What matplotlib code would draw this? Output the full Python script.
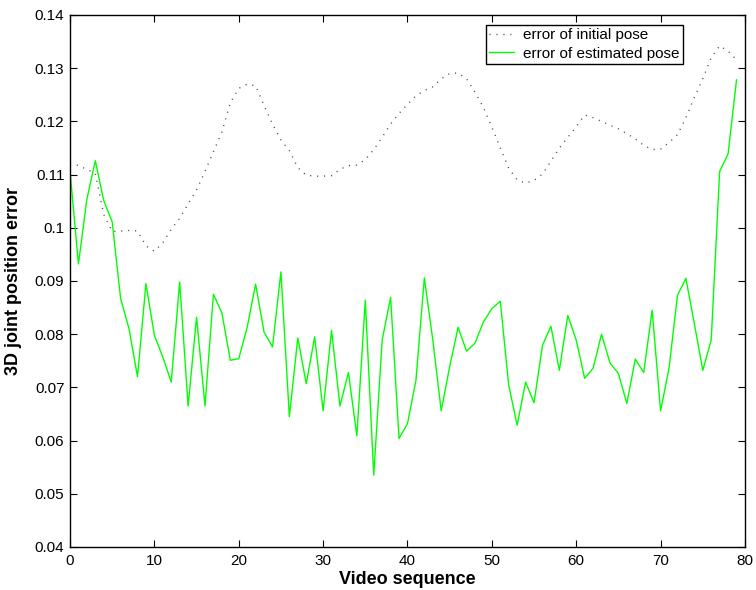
import matplotlib
matplotlib.use("Agg")
import matplotlib.pyplot as plt
from matplotlib.ticker import FuncFormatter

# video sequence index
frames = list(range(80))

# error of initial pose (dotted)
err_initial = [
    0.1121, 0.1117, 0.1110, 0.1102, 0.1025, 0.0993, 0.0994, 0.0995, 0.0994, 0.0966,
    0.0956, 0.0972, 0.0997, 0.1018, 0.1045, 0.1071, 0.1106, 0.1143, 0.1180, 0.1235,
    0.1262, 0.1270, 0.1267, 0.1230, 0.1195, 0.1165, 0.1145, 0.1113, 0.1099, 0.1097,
    0.1097, 0.1098, 0.1110, 0.1117, 0.1118, 0.1128, 0.1147, 0.1170, 0.1195, 0.1215,
    0.1232, 0.1248, 0.1258, 0.1265, 0.1280, 0.1290, 0.1291, 0.1280, 0.1255, 0.1226,
    0.1189, 0.1150, 0.1112, 0.1090, 0.1084, 0.1089, 0.1101, 0.1125, 0.1150, 0.1170,
    0.1190, 0.1212, 0.1207, 0.1200, 0.1193, 0.1186, 0.1177, 0.1167, 0.1155, 0.1147,
    0.1148, 0.1160, 0.1175, 0.1207, 0.1245, 0.1280, 0.1320, 0.1342, 0.1332, 0.1316,
]

# error of estimated pose (green)
err_estimated = [
    0.1107, 0.0932, 0.1054, 0.1126, 0.1051, 0.1011, 0.0867, 0.0810, 0.0720, 0.0895,
    0.0798, 0.0757, 0.0710, 0.0898, 0.0665, 0.0832, 0.0665, 0.0875, 0.0840, 0.0751,
    0.0754, 0.0813, 0.0894, 0.0804, 0.0776, 0.0917, 0.0645, 0.0793, 0.0707, 0.0795,
    0.0656, 0.0807, 0.0665, 0.0728, 0.0609, 0.0864, 0.0535, 0.0789, 0.0869, 0.0604,
    0.0632, 0.0713, 0.0906, 0.0789, 0.0656, 0.0739, 0.0813, 0.0768, 0.0783, 0.0823,
    0.0848, 0.0862, 0.0704, 0.0629, 0.0710, 0.0671, 0.0779, 0.0815, 0.0732, 0.0835,
    0.0789, 0.0717, 0.0736, 0.0800, 0.0746, 0.0726, 0.0670, 0.0753, 0.0728, 0.0845,
    0.0656, 0.0736, 0.0873, 0.0905, 0.0820, 0.0732, 0.0789, 0.1106, 0.1139, 0.1278,
]

x_ticks = [0, 10, 20, 30, 40, 50, 60, 70, 80]
y_ticks = [0.04, 0.05, 0.06, 0.07, 0.08, 0.09, 0.10, 0.11, 0.12, 0.13, 0.14]

plt.rcParams['font.family'] = ['Liberation Sans', 'DejaVu Sans']

fig = plt.figure(figsize=(7.56, 5.90), dpi=100)
ax = fig.add_axes([0.0926, 0.0729, 0.8928, 0.9017])

ax.plot(frames, err_initial, color='#664466', linewidth=1.0,
        linestyle=(0, (0.8, 4.2)), label='error of initial pose')
ax.plot(frames, err_estimated, color='#00ff00', linewidth=1.0,
        label='error of estimated pose')

ax.set_xlim(0, 80)
ax.set_ylim(0.04, 0.14)
ax.set_xticks(x_ticks)
ax.set_yticks(y_ticks)
ax.yaxis.set_major_formatter(FuncFormatter(lambda v, p: '%g' % round(v, 2)))
ax.tick_params(direction='in', top=True, right=True, length=5, width=0.8,
               labelsize=11, pad=4)
ax.tick_params(axis='x', pad=5)
for s in ax.spines.values():
    s.set_linewidth(1.0)

ax.set_xlabel('Video sequence', fontsize=13, fontweight='bold', labelpad=2)
ax.set_ylabel('3D joint position error', fontsize=13, fontweight='bold', labelpad=9)

leg = ax.legend(loc='upper right', bbox_to_anchor=(0.908, 0.981), fontsize=11,
                fancybox=False, framealpha=1, edgecolor='black',
                handlelength=1.65, borderpad=0.2, labelspacing=0.3,
                handletextpad=0.6, borderaxespad=0)
leg.get_frame().set_linewidth(1.0)

fig.savefig('out.png', dpi=100)
